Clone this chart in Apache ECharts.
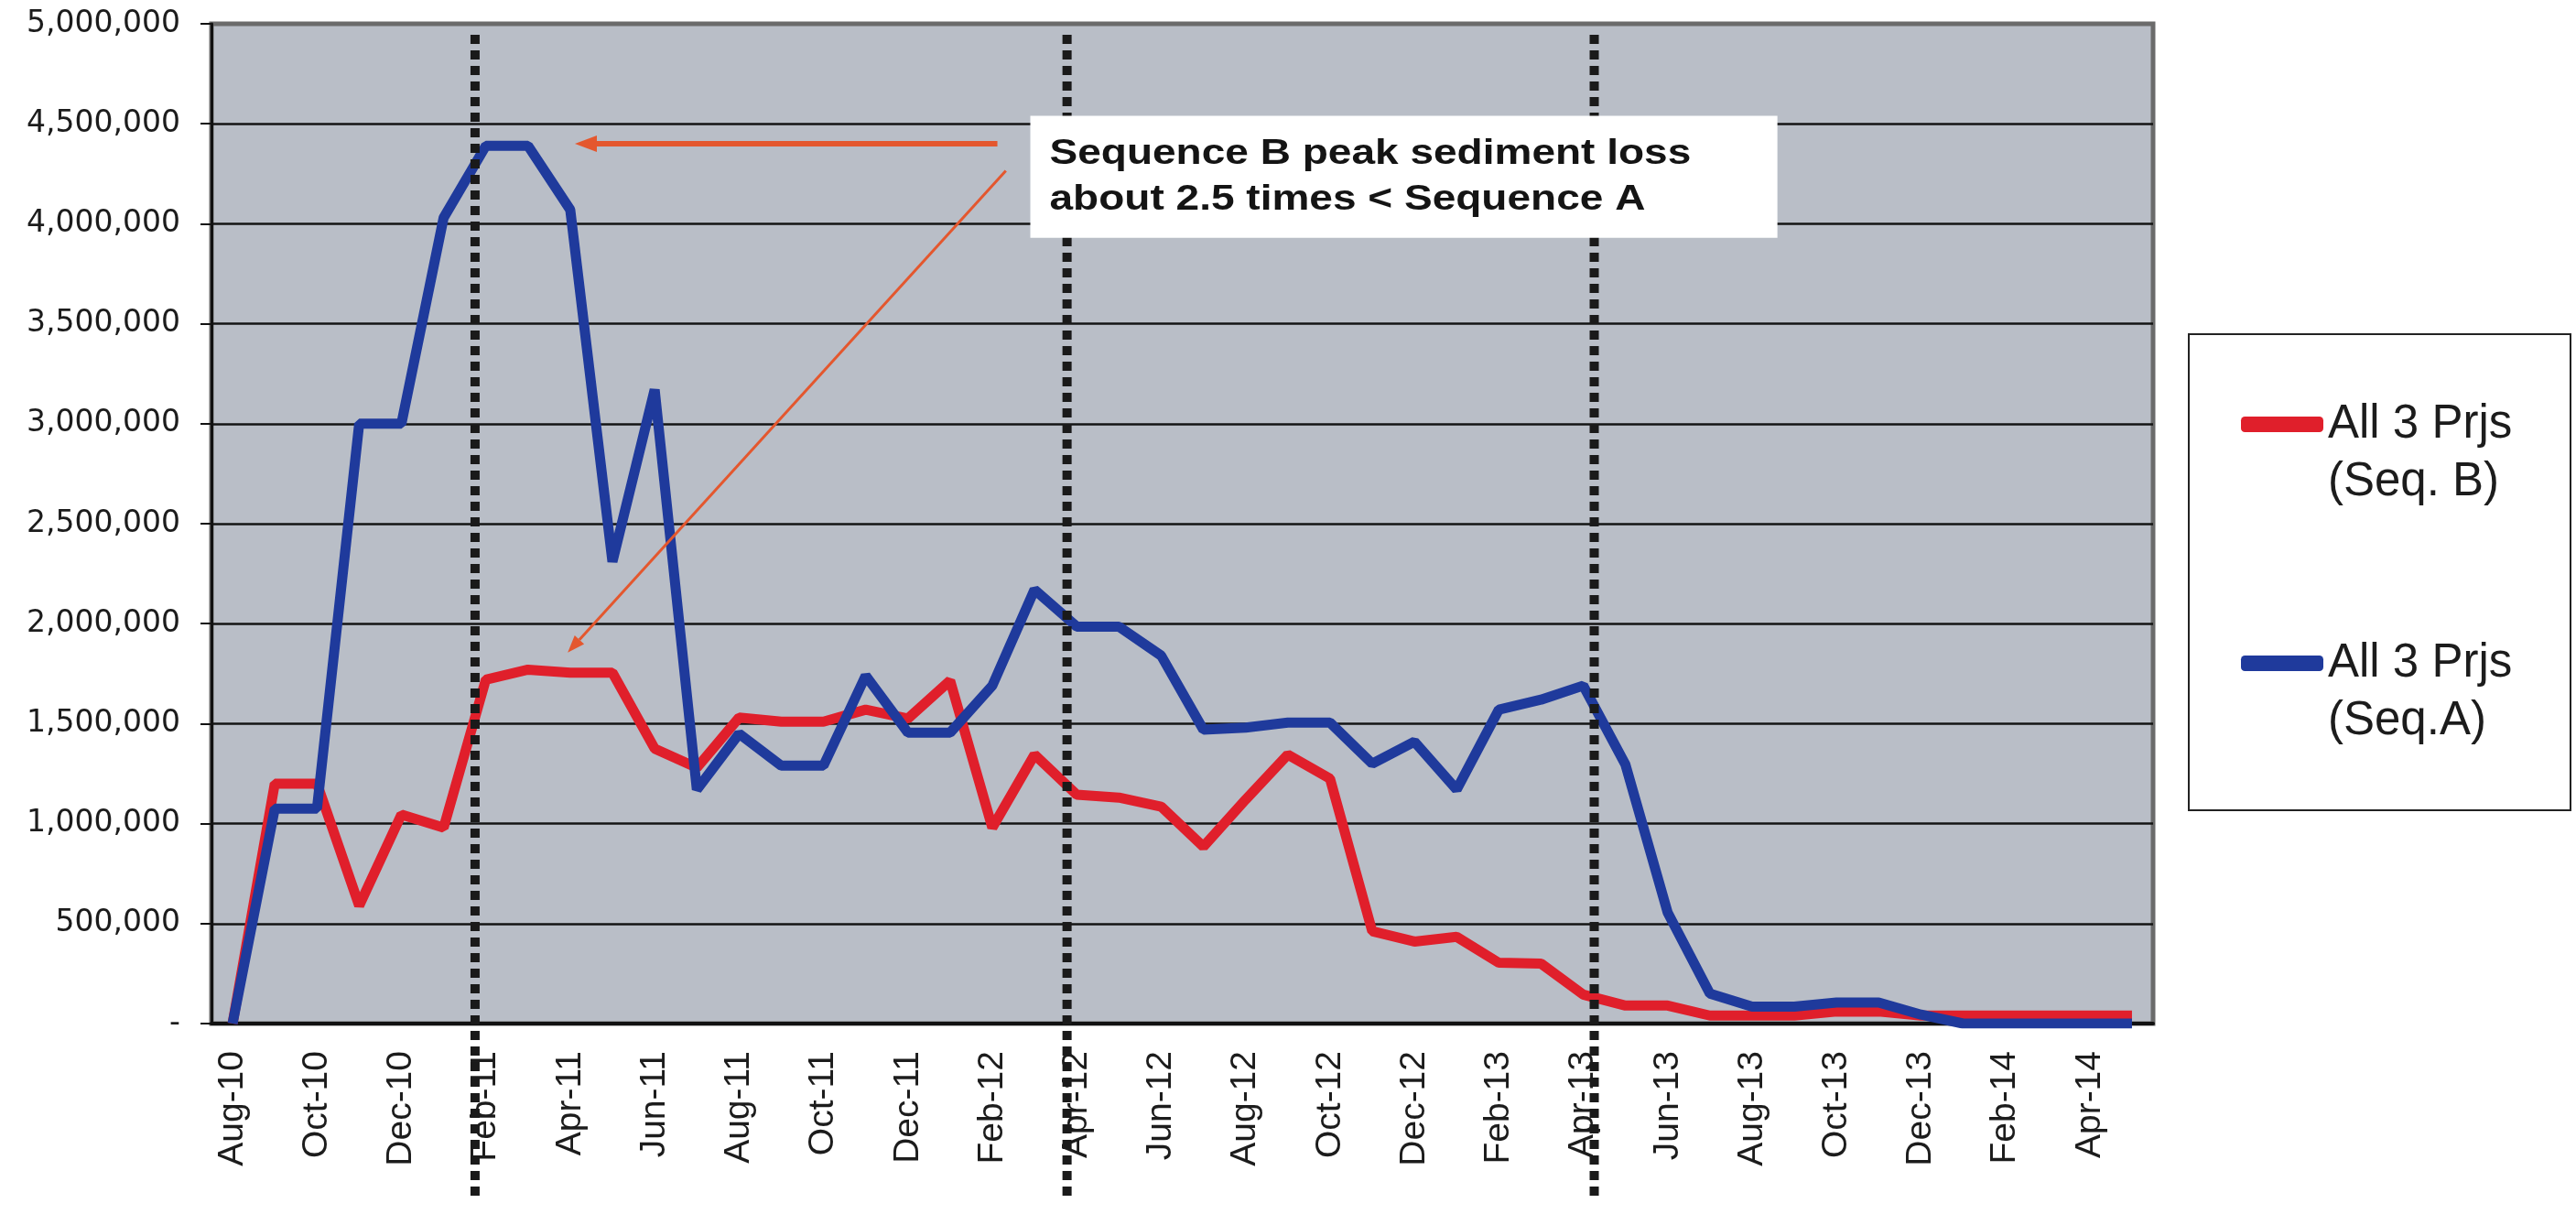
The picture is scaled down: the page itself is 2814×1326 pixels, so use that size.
<!DOCTYPE html>
<html>
<head lang="en">
	<meta http-equiv="Content-Type" content="text/html; charset=UTF-8">
	<title>Sediment loss - Seq. A vs Seq. B</title>
	<style type="text/css">
		html, body { margin: 0; padding: 0; background: #fff; overflow: hidden; }
		#lineChart { width: 2814px; height: 1326px; }
	</style>
	<script src="https://cdn.jsdelivr.net/npm/echarts/dist/echarts.min.js"></script>
</head>

<body>
	<div id="lineChart"></div>
</body>

<script type="text/javascript">
// months on the x axis (every other one is labelled)
var months = ['Aug-10','Sep-10','Oct-10','Nov-10','Dec-10',
	'Jan-11','Feb-11','Mar-11','Apr-11','May-11','Jun-11','Jul-11','Aug-11','Sep-11','Oct-11','Nov-11','Dec-11',
	'Jan-12','Feb-12','Mar-12','Apr-12','May-12','Jun-12','Jul-12','Aug-12','Sep-12','Oct-12','Nov-12','Dec-12',
	'Jan-13','Feb-13','Mar-13','Apr-13','May-13','Jun-13','Jul-13','Aug-13','Sep-13','Oct-13','Nov-13','Dec-13',
	'Jan-14','Feb-14','Mar-14','Apr-14','May-14'];

// All 3 Prjs (Seq. B) - red
var seqB = [0, 1200000, 1200000, 590000, 1045000, 980000, 1720000, 1770000, 1755000, 1755000,
	1375000, 1280000, 1530000, 1510000, 1510000, 1570000, 1525000, 1715000, 980000, 1345000,
	1145000, 1130000, 1085000, 885000, 1120000, 1345000, 1225000, 462000, 410000, 434000,
	304000, 300000, 145000, 90000, 90000, 40000, 40000, 40000, 60000, 60000,
	40000, 40000, 40000, 40000, 40000, 40000];

// All 3 Prjs (Seq.A) - blue
var seqA = [0, 1075000, 1075000, 3000000, 3000000, 4030000, 4390000, 4390000, 4070000, 2310000,
	3170000, 1170000, 1450000, 1290000, 1290000, 1740000, 1455000, 1455000, 1690000, 2170000,
	1985000, 1985000, 1840000, 1470000, 1480000, 1505000, 1505000, 1300000, 1410000, 1170000,
	1570000, 1620000, 1690000, 1295000, 555000, 150000, 85000, 85000, 105000, 105000,
	45000, 0, 0, 0, 0, 0];

var seriesNames = ['All 3 Prjs\n(Seq. B)', 'All 3 Prjs\n(Seq.A)'];

// dotted phase separators, as (fractional) month index
var phaseLines = [5.745, 19.77, 32.26];

// note and its arrows, in [month index, value]
var noteLines = ['Sequence B peak sediment loss', 'about 2.5 times < Sequence A'];
var noteBox = [[18.9, 4540000], [36.6, 3930000]];
var noteArrows = [
	{from: [18.12, 4400000], to: [8.11, 4400000], width: 6, head: 24, half: 9},
	{from: [18.32, 4265000], to: [7.94, 1855000], width: 3, head: 19, half: 7}
];

var lineChart;
var FONT = '"Liberation Sans", Arial, sans-serif';

window.onload = function(){
	f_initLineChart();
	f_drawNotes();
};

//折线图
function f_initLineChart(){
	lineChart = echarts.init(document.getElementById('lineChart'));

	var option = {
		animation: false,
		grid: {
			left: 231,
			right: 462,
			top: 26,
			bottom: 208,
			show: true,
			backgroundColor: '#b9bec7',
			borderColor: '#6b6b6b',
			borderWidth: 5
		},
		legend: {
			orient: 'vertical',
			left: 2448,
			top: 369,
			padding: 0,
			itemWidth: 90,
			itemHeight: 17,
			itemGap: 72,
			icon: 'roundRect',
			selectedMode: false,
			data: seriesNames,
			formatter: function(name){
				// blank first line keeps the swatch level with "All 3 Prjs"
				return '\u00a0\n' + name;
			},
			textStyle: {
				fontFamily: FONT,
				fontSize: 51,
				lineHeight: 63,
				color: '#1c1c1c'
			}
		},
		xAxis: {
			type: 'category',
			data: months,
			boundaryGap: true,
			axisLine: {
				lineStyle: { color: '#111', width: 4 }
			},
			axisTick: {
				interval: 1,
				length: 13,
				lineStyle: { color: '#111', width: 2 }
			},
			axisLabel: {
				interval: 1,
				rotate: 90,
				margin: 30,
				fontFamily: FONT,
				fontSize: 39,
				color: '#1c1c1c'
			},
			splitLine: { show: false }
		},
		yAxis: {
			type: 'value',
			min: 0,
			max: 5000000,
			interval: 500000,
			axisLine: {
				show: true,
				lineStyle: { color: '#111', width: 3 }
			},
			axisTick: {
				show: true,
				length: 12,
				lineStyle: { color: '#111', width: 2 }
			},
			axisLabel: {
				margin: 34,
				fontFamily: '"DejaVu Sans", sans-serif',
				fontSize: 33,
				color: '#1c1c1c',
				formatter: function(v){
					return v === 0 ? '-' : v.toString().replace(/\B(?=(\d{3})+(?!\d))/g, ',');
				}
			},
			splitLine: {
				show: true,
				showMaxLine: false,
				lineStyle: { color: '#141414', width: 2.5 }
			}
		},
		series: [
			{
				name: seriesNames[0],
				type: 'line',
				data: seqB,
				showSymbol: false,
				color: '#e01f2b',
				lineStyle: { color: '#e01f2b', width: 11 },
				z: 3
			},
			{
				name: seriesNames[1],
				type: 'line',
				data: seqA,
				showSymbol: false,
				color: '#1f3a9c',
				lineStyle: { color: '#1f3a9c', width: 11 },
				z: 4
			}
		]
	};
	lineChart.setOption(option);
}

//数据坐标 -> 像素（月份可为小数）
function f_px(pt){
	var i0 = Math.floor(pt[0]);
	var f = pt[0] - i0;
	var a = lineChart.convertToPixel({gridIndex: 0}, [i0, pt[1]]);
	var b = lineChart.convertToPixel({gridIndex: 0}, [i0 + 1, pt[1]]);
	return [a[0] + (b[0] - a[0]) * f, a[1]];
}

//虚线、说明框、箭头
function f_drawNotes(){
	var els = [];
	var topY = lineChart.convertToPixel({gridIndex: 0}, [0, 5000000])[1] + 12;
	var bottomY = lineChart.getHeight() - 13;

	phaseLines.forEach(function(m){
		var x = f_px([m, 0])[0];
		els.push({
			type: 'line',
			z: 10,
			shape: { x1: x, y1: topY, x2: x, y2: bottomY },
			style: { stroke: '#1a1a1a', lineWidth: 10, lineDash: [10, 7] }
		});
	});

	var p0 = f_px(noteBox[0]);
	var p1 = f_px(noteBox[1]);
	els.push({
		type: 'rect',
		z: 20,
		shape: { x: p0[0], y: p0[1], width: p1[0] - p0[0], height: p1[1] - p0[1] },
		style: { fill: '#ffffff' }
	});
	var midY = (p0[1] + p1[1]) / 2;
	noteLines.forEach(function(t, k){
		els.push({
			type: 'text',
			z: 21,
			x: p0[0] + 21,
			y: midY + (k - 0.5) * 50,
			scaleX: 1.18,
			style: {
				text: t,
				font: 'bold 39px ' + FONT,
				fill: '#141414',
				verticalAlign: 'middle'
			}
		});
	});

	noteArrows.forEach(function(a){
		var s = f_px(a.from);
		var e = f_px(a.to);
		var dx = e[0] - s[0], dy = e[1] - s[1];
		var len = Math.sqrt(dx * dx + dy * dy);
		var ux = dx / len, uy = dy / len;
		var bx = e[0] - ux * a.head, by = e[1] - uy * a.head;
		els.push({
			type: 'line',
			z: 22,
			shape: { x1: s[0], y1: s[1], x2: bx, y2: by },
			style: { stroke: '#e4572e', lineWidth: a.width }
		});
		els.push({
			type: 'polygon',
			z: 22,
			shape: { points: [[e[0], e[1]], [bx - uy * a.half, by + ux * a.half], [bx + uy * a.half, by - ux * a.half]] },
			style: { fill: '#e4572e' }
		});
	});

	// legend frame
	els.push({
		type: 'rect',
		z: 1,
		shape: { x: 2391, y: 365, width: 417, height: 520 },
		style: { fill: '#ffffff', stroke: '#222', lineWidth: 2 }
	});

	lineChart.setOption({ graphic: els });
}
</script>

</html>
